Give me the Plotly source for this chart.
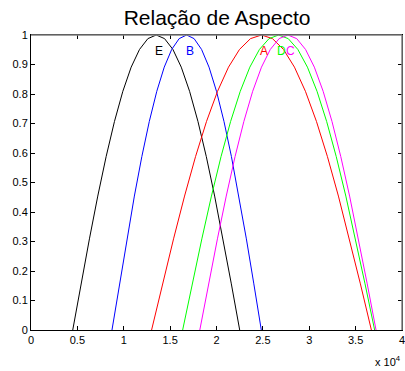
import plotly.graph_objects as go

# Curve data (x in absolute units, axis labelled in units of 10^4)
y_shape = [0, 0.1564, 0.3090, 0.4540, 0.5878, 0.7071, 0.8090, 0.8910, 0.9511, 0.9877, 1,
           0.9877, 0.9511, 0.8910, 0.8090, 0.7071, 0.5878, 0.4540, 0.3090, 0.1564, 0]

x_E = [4500, 5400, 6300, 7200, 8100, 9000, 9900, 10800, 11700, 12600, 13500,
       14400, 15300, 16200, 17100, 18000, 18900, 19800, 20700, 21600, 22500]
y_E = list(y_shape)

x_B = [8730, 9535, 10340, 11145, 11950, 12755, 13560, 14365, 15170, 15975, 16780,
       17585, 18390, 19195, 20000, 20805, 21610, 22415, 23220, 24025, 24830]
y_B = list(y_shape)

x_A = [13000, 14185, 15370, 16555, 17740, 18925, 20110, 21295, 22480, 23665, 24850,
       26035, 27220, 28405, 29590, 30775, 31960, 33145, 34330, 35515, 36700]
y_A = list(y_shape)

x_D = [16350, 17385, 18420, 19455, 20490, 21525, 22560, 23595, 24630, 25665, 26700,
       27735, 28770, 29805, 30840, 31875, 32910, 33945, 34980, 36015, 37050]
y_D = list(y_shape)

x_C = [18200, 19150, 20100, 21050, 22000, 22950, 23900, 24850, 25800, 26750, 27700,
       28650, 29600, 30550, 31500, 32450, 33400, 34350, 35300, 36250, 37200]
y_C = list(y_shape)

series_names = ["E", "B", "A", "D", "C"]
series_colors = ["#000000", "#0000FF", "#FF0000", "#00FF00", "#FF00FF"]
label_x = [13830, 17130, 25120, 27000, 28000]
label_y = [0.947, 0.947, 0.947, 0.947, 0.947]

x_tickvals = [0, 5000, 10000, 15000, 20000, 25000, 30000, 35000, 40000]
x_ticktext = ["0", "0.5", "1", "1.5", "2", "2.5", "3", "3.5", "4"]
y_tickvals = [0, 0.1, 0.2, 0.3, 0.4, 0.5, 0.6, 0.7, 0.8, 0.9, 1]
y_ticktext = ["0", "0.1", "0.2", "0.3", "0.4", "0.5", "0.6", "0.7", "0.8", "0.9", "1"]

xs = [x_E, x_B, x_A, x_D, x_C]
ys = [y_E, y_B, y_A, y_D, y_C]

FONT = "Arial, Liberation Sans, sans-serif"

fig = go.Figure()
for name, color, xv, yv in zip(series_names, series_colors, xs, ys):
    fig.add_trace(go.Scatter(x=xv, y=yv, mode="lines", name=name,
                             line=dict(color=color, width=1), showlegend=False))

for name, color, lx, ly in zip(series_names, series_colors, label_x, label_y):
    fig.add_annotation(x=lx, y=ly, text=name, showarrow=False,
                       font=dict(color=color, size=12, family=FONT),
                       xanchor="center", yanchor="middle")

fig.add_annotation(xref="paper", yref="paper", x=1.003, y=-0.073,
                   text="x 10<sup>4</sup>", showarrow=False,
                   xanchor="right", yanchor="top",
                   font=dict(size=11, color="black", family=FONT))

# grey top/right box edges
fig.add_shape(type="line", xref="paper", yref="paper", x0=0, x1=1, y0=1, y1=1,
              line=dict(color="#808080", width=1.5))
fig.add_shape(type="line", xref="paper", yref="paper", x0=1, x1=1, y0=0, y1=1,
              line=dict(color="#808080", width=1.5))

axis_common = dict(showgrid=False, zeroline=False, showline=True, linecolor="black",
                   linewidth=1, mirror="ticks", ticks="inside", ticklen=4,
                   tickcolor="black", automargin=False, ticklabeloverflow="allow",
                   tickfont=dict(size=11, color="black", family=FONT))

fig.update_xaxes(range=[0, 40000], tickvals=x_tickvals, ticktext=x_ticktext, **axis_common)
fig.update_yaxes(range=[0, 1], tickvals=y_tickvals, ticktext=y_ticktext, **axis_common)

fig.update_layout(
    width=405, height=371,
    margin=dict(l=31, r=3, t=35, b=41, autoexpand=False),
    paper_bgcolor="white", plot_bgcolor="white",
    title=dict(text="Relação de Aspecto", x=0.536, xanchor="center",
               y=0.952, yanchor="middle",
               font=dict(size=21, color="black", family=FONT)),
)

fig.write_html("out.html", config={"displayModeBar": False},
               post_script="document.body.style.margin='0';document.body.style.overflow='hidden';")
